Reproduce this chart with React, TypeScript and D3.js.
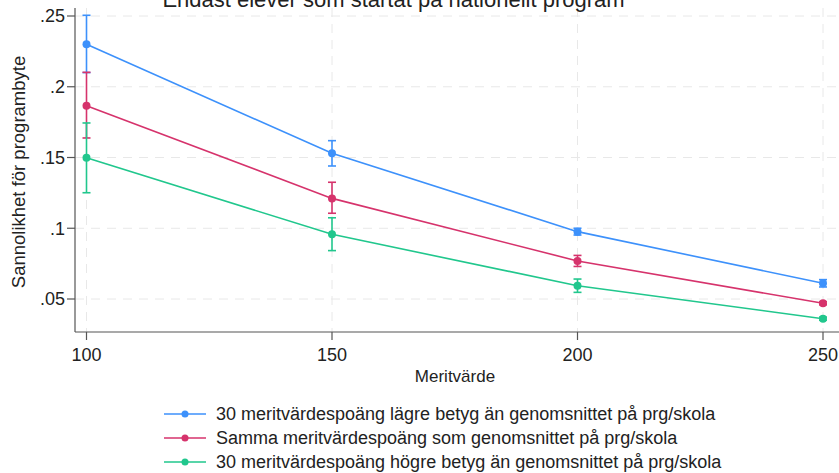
import React from "react";
import * as d3 from "d3";

const xValues = [100, 150, 200, 250];
const yTicks = [0.05, 0.1, 0.15, 0.2, 0.25];
const yTickLabels = [".05", ".1", ".15", ".2", ".25"];

const seriesNames = [
  "30 meritvärdespoäng lägre betyg än genomsnittet på prg/skola",
  "Samma meritvärdespoäng som genomsnittet på prg/skola",
  "30 meritvärdespoäng högre betyg än genomsnittet på prg/skola",
];
const seriesColors = ["#3d91fb", "#d6336c", "#21c78d"];

const lowerEst = [0.23, 0.153, 0.0976, 0.0611];
const lowerLo = [0.21, 0.144, 0.0952, 0.0585];
const lowerHi = [0.2505, 0.1619, 0.1, 0.0637];

const sameEst = [0.1866, 0.1211, 0.0769, 0.047];
const sameLo = [0.1638, 0.1106, 0.073, 0.0459];
const sameHi = [0.2102, 0.1325, 0.0808, 0.0481];

const higherEst = [0.1499, 0.0957, 0.0594, 0.0361];
const higherLo = [0.1251, 0.0842, 0.0547, 0.035];
const higherHi = [0.1744, 0.1074, 0.0641, 0.0372];

const title = "Endast elever som startat på nationellt program";
const xTitle = "Meritvärde";
const yTitle = "Sannolikhet för programbyte";

export default function App() {
  const W = 839, H = 473;
  const x = d3.scaleLinear().domain([100, 250]).range([86.5, 823]);
  const y = d3.scaleLinear().domain([0.05, 0.25]).range([299, 16]);
  const left = 75, right = 839, top = 8, bottom = 332;

  const series = [
    { est: lowerEst, lo: lowerLo, hi: lowerHi },
    { est: sameEst, lo: sameLo, hi: sameHi },
    { est: higherEst, lo: higherLo, hi: higherHi },
  ];
  const line = d3.line<number>().x((_, i) => x(xValues[i])).y((d) => y(d));
  const font = "Liberation Sans, Arial, sans-serif";

  return (
    <svg width={W} height={H} style={{ position: "absolute", left: 0, top: 0, background: "#fff" }} fontFamily={font}>
      <rect width={W} height={H} fill="#fff" />
      {yTicks.map((t) => (
        <line key={"gy" + t} x1={left} x2={right} y1={y(t)} y2={y(t)} stroke="#e8e8e8" strokeWidth={1} strokeDasharray="9,7" />
      ))}
      {xValues.map((t) => (
        <line key={"gx" + t} x1={x(t)} x2={x(t)} y1={top} y2={bottom} stroke="#e8e8e8" strokeWidth={1} strokeDasharray="9,7" />
      ))}
      <text x={393.5} y={7} textAnchor="middle" fontSize={22} fill="#222">{title}</text>
      <line x1={left} x2={left} y1={top} y2={bottom} stroke="#555" strokeWidth={1.2} />
      <line x1={left} x2={right} y1={bottom} y2={bottom} stroke="#555" strokeWidth={1.2} />
      {yTicks.map((t, i) => (
        <g key={"yt" + t}>
          <line x1={left - 8} x2={left} y1={y(t)} y2={y(t)} stroke="#555" strokeWidth={1.2} />
          <text x={left - 10} y={y(t)} dy="0.35em" textAnchor="end" fontSize={18} fill="#222">{yTickLabels[i]}</text>
        </g>
      ))}
      {xValues.map((t) => (
        <g key={"xt" + t}>
          <line x1={x(t)} x2={x(t)} y1={bottom} y2={bottom + 8} stroke="#555" strokeWidth={1.2} />
          <text x={x(t)} y={361} textAnchor="middle" fontSize={18} fill="#222">{t}</text>
        </g>
      ))}
      <text x={455} y={382} textAnchor="middle" fontSize={17} fill="#222">{xTitle}</text>
      <text transform={`translate(24.5,172) rotate(-90)`} textAnchor="middle" fontSize={18.5} fill="#222">{yTitle}</text>
      {series.map((s, si) => (
        <g key={"s" + si} stroke={seriesColors[si]} fill={seriesColors[si]}>
          <path d={line(s.est) || ""} fill="none" strokeWidth={1.6} />
          {s.est.map((v, i) => (
            <g key={i}>
              <line x1={x(xValues[i])} x2={x(xValues[i])} y1={y(s.lo[i])} y2={y(s.hi[i])} strokeWidth={1.6} />
              <line x1={x(xValues[i]) - 4} x2={x(xValues[i]) + 4} y1={y(s.lo[i])} y2={y(s.lo[i])} strokeWidth={1.6} />
              <line x1={x(xValues[i]) - 4} x2={x(xValues[i]) + 4} y1={y(s.hi[i])} y2={y(s.hi[i])} strokeWidth={1.6} />
              <circle cx={x(xValues[i])} cy={y(v)} r={4} stroke="none" />
            </g>
          ))}
        </g>
      ))}
      {seriesNames.map((n, i) => (
        <g key={"l" + i}>
          <line x1={164} x2={206} y1={414 + i * 24} y2={414 + i * 24} stroke={seriesColors[i]} strokeWidth={1.6} />
          <circle cx={185} cy={414 + i * 24} r={3.5} fill={seriesColors[i]} />
          <text x={216} y={414 + i * 24} dy="0.35em" fontSize={18} fill="#222">{n}</text>
        </g>
      ))}
    </svg>
  );
}
